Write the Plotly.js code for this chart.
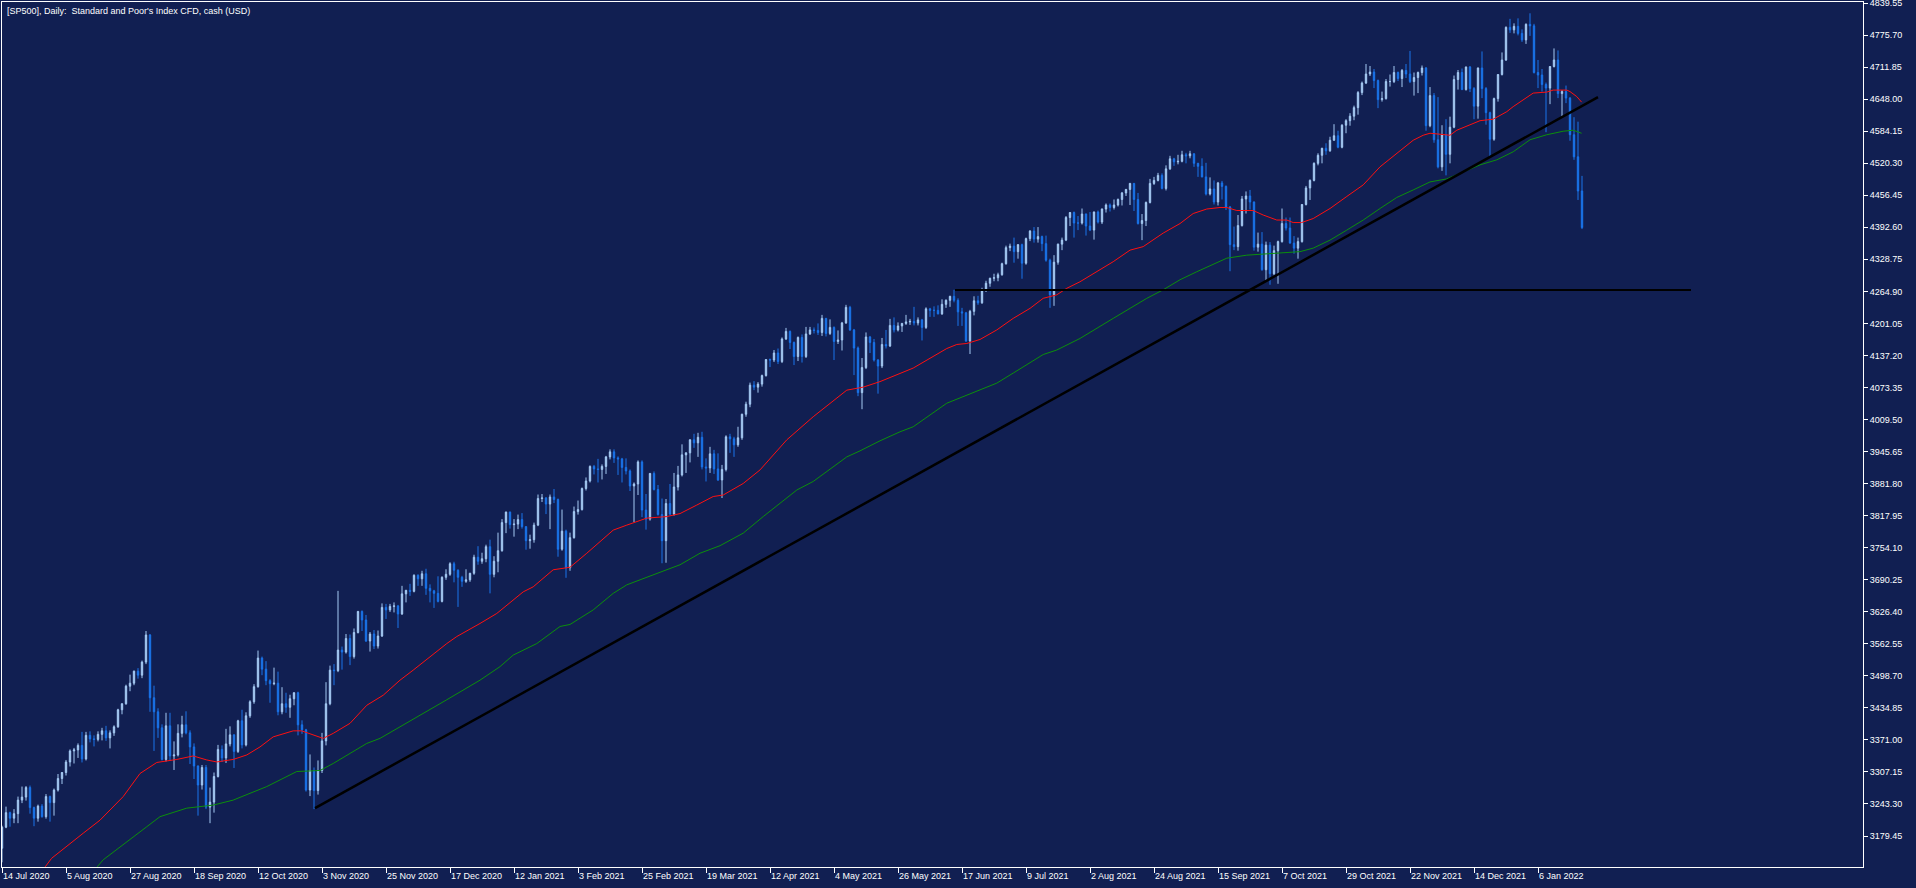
<!DOCTYPE html>
<html><head><meta charset="utf-8">
<script src="https://cdn.plot.ly/plotly-3.0.1.min.js"></script>
<style>html,body{margin:0;padding:0;background:#111f52;overflow:hidden}#chart{width:1916px;height:888px}</style>
</head><body><div id="chart"></div>
<script>
// Daily CFD bars, 14 Jul 2020 .. 21 Jan 2022 (one bar per weekday, as on the chart)
const openP = [
3155,3197,3226,3215,3224,3251,3257,3276,3236,3215,3239,3218,3258,3246,
3271,3294,3306,3327,3349,3351,3360,3333,3380,3373,3372,3382,3389,3375,3385,3397,3431,3443,3478,3484,3508,
3500,3526,3580,3455,3427,3395,3332,3399,3339,3341,3384,3401,3385,3357,3319,3281,3316,3237,3247,3298,3352,3335,
3363,3381,3348,3409,3361,3419,3447,3477,3534,3512,3489,3483,3484,3427,3443,3436,3453,3465,3401,3391,3271,3310,
3270,3310,3369,3443,3510,3509,3550,3546,3573,3537,3585,3627,3610,3568,3582,3558,3578,3635,3630,3637,3638,
3622,3662,3669,3667,3699,3692,3702,3673,3668,3663,3647,3695,3701,3722,3709,3695,3687,3690,
3703,3735,3727,3732,
3756,3701,3727,3748,3804,3825,3800,3801,3810,3796,3768,3770,3799,3852,3853,3841,3855,3850,3751,3787,
3714,3774,3826,3830,3872,3887,3916,3911,3910,3916,3935,3945,3933,3931,3914,3907,3877,3881,3925,3829,
3811,3902,3870,3820,3768,3842,3821,3875,3899,3939,3943,3969,3963,3974,3915,3913,3941,3911,3889,3910,3975,3971,3959,3973,4020,
4040,4078,4074,4080,4097,4129,4128,4142,4125,4170,4185,4163,4135,4173,4135,4180,4188,4187,4183,4211,
4181,4193,4165,4168,4202,4233,4188,4152,4063,4113,4174,4163,4128,4116,4159,4156,4197,4188,4196,4201,4204,
4205,4202,4208,4193,4230,4227,4227,4220,4239,4247,4255,4247,4224,4222,4166,4225,4246,4242,4266,4281,4291,4292,4298,4320,
4352,4355,4344,4358,4321,4370,4385,4369,4374,4360,4327,4258,4323,4359,4367,4412,4422,4401,4401,4419,4395,
4387,4423,4403,4429,4437,4432,4437,4448,4461,4468,4480,4448,4400,4406,4442,4480,4486,4496,4470,4509,4529,4523,4524,4537,4535,
4539,4520,4514,4493,4459,4469,4443,4481,4474,4433,4358,4354,4396,4449,4455,4443,4353,4359,4308,4357,4300,4346,
4364,4400,4391,4361,4351,4364,4438,4471,4486,4520,4536,4550,4545,4566,4575,4552,4596,
4605,4614,4631,4661,4680,4698,4702,4685,4647,4649,4683,4683,4701,4689,4705,4698,4683,4691,4701,4710,4595,4655,
4567,4513,4577,4538,4592,4687,4701,4667,4712,4669,4634,4710,4669,4621,4568,4649,4697,
4726,4791,4786,4793,4779,4766,4797,4794,4701,4696,4677,4670,4713,4726,4659,4663,4650,4577,4533,4465];
const highP = [
3200,3238,3228,3233,3258,3278,3279,3280,3238,3242,3243,3263,3260,3274,
3303,3307,3331,3352,3355,3364,3387,3387,3388,3380,3388,3395,3399,3390,3400,3433,3444,3481,3501,3509,3514,
3529,3588,3582,3479,3434,3402,3425,3425,3368,3402,3419,3428,3390,3364,3320,3321,3321,3276,3306,3361,3360,3393,
3398,3382,3411,3431,3426,3450,3482,3549,3537,3528,3492,3515,3507,3476,3465,3461,3466,3467,3410,3393,3342,3316,
3330,3385,3486,3519,3522,3668,3557,3582,3581,3593,3628,3629,3620,3586,3590,3589,3643,3642,3642,3645,3640,
3678,3670,3682,3701,3701,3708,3712,3681,3670,3697,3697,3711,3725,3726,3711,3698,3711,3704,
3740,3757,3744,3760,
3770,3737,3784,3811,3826,3826,3811,3820,3823,3797,3780,3804,3860,3861,3855,3860,3871,3852,3830,3790,
3784,3836,3848,3874,3894,3918,3919,3931,3920,3937,3950,3950,3936,3933,3932,3910,3884,3928,3928,3861,
3903,3906,3879,3852,3851,3881,3903,3917,3960,3944,3970,3981,3983,3985,3932,3955,3949,3942,3919,3978,3981,3975,3995,4021,4045,
4083,4086,4084,4099,4130,4131,4148,4151,4173,4192,4187,4165,4175,4179,4194,4194,4193,4201,4218,4212,
4209,4195,4187,4204,4238,4236,4190,4155,4132,4183,4176,4170,4130,4172,4188,4210,4213,4203,4202,4218,4210,
4234,4213,4210,4233,4232,4235,4237,4249,4249,4256,4268,4251,4232,4224,4228,4255,4256,4272,4286,4292,4300,4302,4322,4356,
4360,4372,4359,4360,4372,4387,4393,4393,4376,4376,4330,4337,4360,4372,4415,4423,4424,4415,4430,4420,4423,
4424,4426,4430,4440,4440,4448,4450,4463,4469,4481,4481,4461,4419,4444,4489,4493,4501,4500,4516,4535,4531,4537,4545,4541,4545,
4540,4521,4530,4521,4492,4486,4483,4485,4476,4435,4394,4417,4455,4464,4467,4444,4382,4383,4364,4363,4356,4366,
4430,4412,4412,4375,4372,4439,4475,4488,4522,4540,4551,4560,4573,4598,4585,4598,4608,
4620,4635,4664,4683,4718,4714,4708,4687,4663,4688,4697,4714,4703,4708,4718,4744,4701,4703,4715,4712,4672,4660,
4652,4596,4608,4613,4695,4706,4709,4713,4714,4672,4711,4743,4672,4623,4651,4698,4741,
4793,4808,4799,4809,4787,4799,4819,4798,4726,4708,4681,4714,4749,4745,4666,4675,4652,4612,4603,4495];
const lowP = [
3127,3195,3198,3205,3205,3245,3250,3224,3199,3208,3216,3214,3208,3220,
3268,3283,3300,3318,3324,3335,3326,3330,3366,3358,3368,3370,3369,3354,3379,3395,3422,3441,3468,3480,3493,
3494,3522,3427,3349,3375,3330,3328,3329,3311,3338,3376,3382,3323,3293,3220,3272,3233,3205,3226,3296,3327,3325,
3358,3315,3345,3354,3358,3415,3443,3475,3500,3480,3445,3480,3420,3422,3425,3415,3440,3380,3383,3268,3259,3233,
3262,3305,3360,3440,3480,3506,3511,3543,3520,3533,3583,3588,3566,3547,3552,3553,3576,3612,3626,3625,3594,
3620,3645,3658,3665,3678,3678,3660,3645,3634,3645,3645,3690,3698,3685,3636,3676,3684,3686,
3700,3720,3722,3725,
3663,3695,3705,3746,3783,3792,3776,3791,3792,3750,3752,3764,3797,3845,3821,3791,3843,3736,3748,3694,
3708,3772,3820,3828,3868,3884,3900,3884,3890,3901,3930,3923,3899,3884,3900,3867,3805,3859,3815,3790,
3808,3868,3818,3723,3724,3818,3818,3868,3896,3903,3924,3953,3935,3910,3886,3903,3901,3887,3853,3906,3943,3935,3955,3969,4015,
4034,4068,4063,4075,4095,4114,4124,4120,4122,4168,4150,4118,4126,4123,4132,4178,4181,4178,4176,4175,
4178,4128,4160,4147,4200,4186,4098,4056,4030,4110,4142,4125,4061,4112,4151,4154,4183,4185,4184,4198,4198,
4197,4197,4167,4190,4214,4214,4219,4218,4232,4234,4243,4196,4196,4164,4140,4217,4238,4240,4264,4274,4285,4285,4296,4318,
4345,4322,4330,4290,4318,4365,4362,4362,4345,4324,4232,4236,4318,4347,4365,4395,4372,4387,4398,4376,4385,
4368,4400,4399,4422,4424,4428,4434,4436,4455,4437,4425,4398,4367,4395,4440,4477,4484,4468,4466,4507,4515,4518,4522,4520,4530,
4513,4493,4492,4456,4456,4438,4436,4448,4427,4305,4347,4346,4394,4420,4428,4346,4344,4306,4286,4278,4297,4280,
4362,4386,4360,4340,4330,4362,4436,4447,4484,4516,4520,4537,4543,4565,4550,4550,4580,
4595,4606,4617,4656,4678,4694,4670,4630,4643,4647,4673,4680,4684,4672,4690,4680,4655,4660,4695,4585,4592,4561,
4510,4505,4496,4520,4590,4667,4666,4665,4662,4608,4609,4650,4597,4531,4565,4643,4695,
4724,4780,4779,4775,4762,4758,4774,4699,4670,4663,4582,4638,4711,4650,4614,4640,4565,4527,4447,4389];
const closeP = [
3197,3226,3215,3224,3251,3257,3276,3236,3215,3239,3218,3258,3246,3271,
3294,3306,3327,3349,3351,3360,3333,3380,3373,3372,3382,3389,3375,3385,3397,3431,3443,3478,3484,3508,3500,
3526,3580,3455,3427,3395,3332,3399,3339,3341,3384,3401,3385,3357,3319,3281,3316,3237,3247,3298,3352,3335,3363,
3381,3348,3409,3361,3419,3447,3477,3534,3512,3489,3483,3484,3427,3443,3436,3453,3465,3401,3391,3271,3310,3270,
3310,3369,3443,3510,3509,3550,3546,3573,3537,3585,3627,3610,3568,3582,3558,3578,3635,3630,3637,3638,3622,
3662,3669,3667,3699,3692,3702,3673,3668,3663,3647,3695,3701,3722,3709,3695,3687,3690,3703,
3735,3727,3732,3756,
3701,3727,3748,3804,3825,3800,3801,3810,3796,3768,3770,3799,3852,3853,3841,3855,3850,3751,3787,3714,
3774,3826,3830,3872,3887,3916,3911,3910,3916,3935,3945,3933,3931,3914,3907,3877,3881,3925,3829,3811,
3902,3870,3820,3768,3842,3821,3875,3899,3939,3943,3969,3963,3974,3915,3913,3941,3911,3889,3910,3975,3971,3959,3973,4020,4040,
4078,4074,4080,4097,4129,4128,4142,4125,4170,4185,4163,4135,4173,4135,4180,4188,4187,4183,4211,4181,
4193,4165,4168,4202,4233,4188,4152,4063,4113,4174,4163,4128,4116,4159,4156,4197,4188,4196,4201,4204,4205,
4202,4208,4193,4230,4227,4227,4220,4239,4247,4255,4247,4224,4222,4166,4225,4246,4242,4266,4281,4291,4292,4298,4320,4352,
4355,4344,4358,4321,4370,4385,4369,4374,4360,4327,4258,4323,4359,4367,4412,4422,4401,4401,4419,4395,4387,
4423,4403,4429,4437,4432,4437,4448,4461,4468,4480,4448,4400,4406,4442,4480,4486,4496,4470,4509,4529,4523,4524,4537,4535,4539,
4520,4514,4493,4459,4469,4443,4481,4474,4433,4358,4354,4396,4449,4455,4443,4353,4359,4308,4357,4300,4346,4364,
4400,4391,4361,4351,4364,4438,4471,4486,4520,4536,4550,4545,4566,4575,4552,4596,4605,
4614,4631,4661,4680,4698,4702,4685,4647,4649,4683,4683,4701,4689,4705,4698,4683,4691,4701,4710,4595,4655,4567,
4513,4577,4538,4592,4687,4701,4667,4712,4669,4634,4710,4669,4621,4568,4649,4697,4726,
4791,4786,4793,4779,4766,4797,4794,4701,4696,4677,4670,4713,4726,4659,4663,4650,4577,4533,4465,4392];

// Moving averages (bar position, price)
const maRedX = [10.8,12.4,20.3,24.5,30.3,34.5,38.7,43.7,47.8,51.2,53.7,57.8,61.2,64.5,67.8,72.8,74.9,77.8,80.3,82.8,87,91.2,95.3,99.5,102.8,111.2,113.7,119.5,123.7,130.3,132.8,137.8,142,146.2,152.8,156.2,161.2,166.2,169.5,173.7,177.8,180.3,185.3,189.5,196.2,202.8,211.2,215.3,219.5,227.8,236.2,238.7,241.2,244.5,248.7,252.8,257,260.3,263.7,266.2,269.5,277.8,282,285.3,290.3,294.5,297.8,301.2,304.5,306.2,308.7,312.8,315.3,318.7,321.2,322.8,324.9,327.8,332,336.2,340.3,344.5,348.7,352.8,355.3,357,359.5,362,363.7,367,369.5,372.8,376.2,377.8,381.2,382.8,386.2,387.8,391.2,392,393.7,394.9];
const maRedY = [3118,3135,3185,3211,3258,3304,3326,3332,3339,3331,3327,3332,3341,3357,3377,3389,3389,3381,3374,3384,3404,3440,3460,3490,3510,3563,3577,3603,3623,3666,3676,3710,3715,3743,3789,3799,3813,3816,3822,3839,3856,3859,3882,3909,3969,4015,4068,4074,4085,4112,4151,4159,4161,4169,4188,4211,4231,4251,4258,4271,4284,4324,4347,4354,4381,4400,4420,4429,4432,4432,4426,4426,4417,4407,4407,4402,4402,4410,4430,4454,4477,4513,4540,4566,4576,4580,4578,4576,4586,4596,4605,4608,4623,4633,4652,4660,4662,4666,4666,4663,4653,4642];
const maGreenX = [23.8,25.3,36.2,39.5,46.2,52.8,57.8,66.2,73.7,79.5,82.8,91.2,94.5,99.5,102.8,111.2,119.5,124.5,127.8,133.7,139.5,142,147.8,152.8,156.2,161.2,164.5,169.5,174.5,179.5,185.3,190.3,198.7,202.8,211.2,214.5,219.5,224.5,227.8,236.2,240.3,244.5,248.7,252.8,257,260.3,263.7,269.5,277.8,282.8,286.2,290.3,294.5,298.7,302.8,306.2,311.2,315.3,319.5,324.5,327.8,332,336.2,340.3,344.5,348.7,352.8,357,361.2,365.3,369.5,373.7,377.8,382,386.2,390.3,392.8,394.9];
const maGreenY = [3118,3132,3198,3218,3235,3241,3251,3278,3308,3310,3324,3364,3374,3397,3411,3451,3490,3517,3540,3563,3597,3601,3630,3663,3680,3696,3705,3720,3743,3758,3783,3816,3869,3886,3935,3947,3967,3985,3995,4042,4055,4068,4082,4102,4122,4139,4148,4171,4211,4234,4251,4268,4288,4304,4319,4331,4337,4339,4341,4344,4351,4367,4387,4407,4430,4452,4467,4483,4489,4503,4517,4527,4543,4567,4577,4584,4586,4580];

// Drawn objects: rising trend line and horizontal level
const trendX = [78.25, 399];
const trendY = [3235, 4652];
const levelX = [238.25, 422.25];
const levelY = [4267.6, 4267.6];

const xTickLabels = ['14 Jul 2020','5 Aug 2020','27 Aug 2020','18 Sep 2020','12 Oct 2020','3 Nov 2020','25 Nov 2020','17 Dec 2020','12 Jan 2021','3 Feb 2021','25 Feb 2021','19 Mar 2021','12 Apr 2021','4 May 2021','26 May 2021','17 Jun 2021','9 Jul 2021','2 Aug 2021','24 Aug 2021','15 Sep 2021','7 Oct 2021','29 Oct 2021','22 Nov 2021','14 Dec 2021','6 Jan 2022'];
const yTickLabels = ['3179.45','3243.30','3307.15','3371.00','3434.85','3498.70','3562.55','3626.40','3690.25','3754.10','3817.95','3881.80','3945.65','4009.50','4073.35','4137.20','4201.05','4264.90','4328.75','4392.60','4456.45','4520.30','4584.15','4648.00','4711.85','4775.70','4839.55'];

const barIndex = closeP.map((_, i) => i);
const BG = '#111f52';
const FONT = 'Liberation Sans, Arial, sans-serif';

const traces = [
  {type:'candlestick', x:barIndex, open:openP, high:highP, low:lowP, close:closeP,
   increasing:{line:{color:'#a6cbf4', width:1}, fillcolor:'#a6cbf4'},
   decreasing:{line:{color:'#1a74ea', width:1}, fillcolor:'#1a74ea'},
   whiskerwidth:0, hoverinfo:'none', showlegend:false},
  {type:'scatter', mode:'lines', x:maGreenX, y:maGreenY, line:{color:'#0c8f0c', width:1}, hoverinfo:'none', showlegend:false},
  {type:'scatter', mode:'lines', x:maRedX, y:maRedY, line:{color:'#ff1010', width:1}, hoverinfo:'none', showlegend:false},
  {type:'scatter', mode:'lines', x:trendX, y:trendY, line:{color:'#000000', width:2.5}, hoverinfo:'none', showlegend:false},
  {type:'scatter', mode:'lines', x:levelX, y:levelY, line:{color:'#000000', width:2}, hoverinfo:'none', showlegend:false}
];

const layout = {
  width:1916, height:888,
  margin:{l:2, r:53, t:2, b:21, pad:0},
  paper_bgcolor:BG, plot_bgcolor:BG,
  showlegend:false, hovermode:false, boxgap:0.5,
  font:{family:FONT, size:9, color:'#ffffff'},
  xaxis:{type:'linear', range:[0, 465.25], rangeslider:{visible:false},
    showgrid:false, zeroline:false, showline:true, linecolor:'#ffffff', linewidth:1, mirror:true,
    ticks:'outside', ticklen:5, tickwidth:1, tickcolor:'#ffffff',
    tickmode:'array', tickvals:xTickLabels.map((_, k) => 16*k), ticktext:xTickLabels,
    ticklabelposition:'outside right', ticklabeloverflow:'allow',
    tickfont:{family:FONT, size:9, color:'#ffffff'}, fixedrange:true},
  yaxis:{side:'right', range:[3117.67, 4841.54],
    showgrid:false, zeroline:false, showline:true, linecolor:'#ffffff', linewidth:1, mirror:true,
    ticks:'outside', ticklen:4, tickwidth:1, tickcolor:'#ffffff',
    tickmode:'array', tickvals:yTickLabels.map(Number), ticktext:yTickLabels,
    ticklabeloverflow:'allow',
    tickfont:{family:FONT, size:9, color:'#ffffff'}, fixedrange:true},
  annotations:[{xref:'paper', yref:'paper', x:0, y:1, xanchor:'left', yanchor:'top', xshift:3, yshift:-2,
    text:"[SP500], Daily:\u00a0 Standard and Poor's Index CFD, cash (USD)", showarrow:false,
    font:{family:FONT, size:9, color:'#ffffff'}}]
};

Plotly.newPlot('chart', traces, layout, {staticPlot:true, displayModeBar:false});
</script>
</body></html>
